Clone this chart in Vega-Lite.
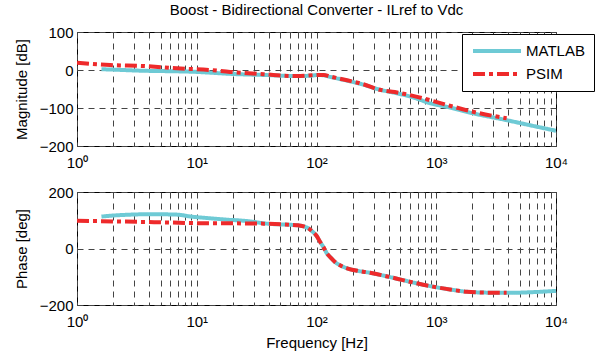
{
  "$schema": "https://vega.github.io/schema/vega-lite/v6.json",
  "padding": {"left": 13, "top": 2, "right": 1, "bottom": 0},
  "bounds": "flush",
  "spacing": 46,
  "config": {
    "font": "Liberation Sans",
    "view": {"stroke": "#000", "strokeWidth": 1},
    "axis": {
      "labelFontSize": 15, "titleFontSize": 15, "labelColor": "#000", "titleColor": "#000",
      "titleFontWeight": "normal", "domain": false, "ticks": false,
      "grid": true, "gridDash": [6, 5], "gridColor": "#444", "gridWidth": 1, "gridOpacity": 1,
      "labelFont": "Liberation Sans", "titleFont": "Liberation Sans"
    },
    "title": {"fontSize": 15, "fontWeight": "normal", "font": "Liberation Sans", "color": "#000"},
    "legend": {"labelFont": "Liberation Sans"}
  },
  "datasets": {
    "mag": [
      {"f": 1.6, "v": 2, "s": "MATLAB"}, {"f": 2, "v": 1, "s": "MATLAB"}, {"f": 3.6, "v": -2, "s": "MATLAB"},
      {"f": 6.8, "v": -3.5, "s": "MATLAB"}, {"f": 10, "v": -5, "s": "MATLAB"}, {"f": 12.9, "v": -7, "s": "MATLAB"},
      {"f": 20, "v": -10.5, "s": "MATLAB"}, {"f": 36, "v": -13, "s": "MATLAB"}, {"f": 68, "v": -16, "s": "MATLAB"},
      {"f": 90, "v": -15, "s": "MATLAB"}, {"f": 103, "v": -13, "s": "MATLAB"}, {"f": 115, "v": -14, "s": "MATLAB"},
      {"f": 130, "v": -18, "s": "MATLAB"}, {"f": 180, "v": -28, "s": "MATLAB"}, {"f": 243, "v": -38, "s": "MATLAB"},
      {"f": 340, "v": -52, "s": "MATLAB"}, {"f": 450, "v": -60, "s": "MATLAB"}, {"f": 640, "v": -72, "s": "MATLAB"},
      {"f": 900, "v": -88, "s": "MATLAB"}, {"f": 1230, "v": -97, "s": "MATLAB"}, {"f": 2030, "v": -114, "s": "MATLAB"},
      {"f": 3870, "v": -132, "s": "MATLAB"}, {"f": 6000, "v": -145, "s": "MATLAB"}, {"f": 10000, "v": -160, "s": "MATLAB"},
      {"f": 1, "v": 19, "s": "PSIM"}, {"f": 1.3, "v": 16, "s": "PSIM"}, {"f": 1.89, "v": 13, "s": "PSIM"},
      {"f": 3.6, "v": 10.5, "s": "PSIM"}, {"f": 6.8, "v": 4.5, "s": "PSIM"}, {"f": 12.9, "v": 0, "s": "PSIM"},
      {"f": 19, "v": -5, "s": "PSIM"}, {"f": 36, "v": -11, "s": "PSIM"}, {"f": 68, "v": -16, "s": "PSIM"},
      {"f": 103, "v": -13, "s": "PSIM"}, {"f": 115, "v": -13, "s": "PSIM"}, {"f": 130, "v": -17, "s": "PSIM"},
      {"f": 180, "v": -27, "s": "PSIM"}, {"f": 243, "v": -37, "s": "PSIM"}, {"f": 338, "v": -52, "s": "PSIM"},
      {"f": 450, "v": -58, "s": "PSIM"}, {"f": 640, "v": -68, "s": "PSIM"}, {"f": 900, "v": -80, "s": "PSIM"},
      {"f": 1230, "v": -92, "s": "PSIM"}, {"f": 2030, "v": -110, "s": "PSIM"}, {"f": 3870, "v": -127, "s": "PSIM"}
    ],
    "phase": [
      {"f": 1.6, "v": 113, "s": "MATLAB"}, {"f": 1.9, "v": 116, "s": "MATLAB"}, {"f": 2.5, "v": 119, "s": "MATLAB"},
      {"f": 3.6, "v": 121, "s": "MATLAB"}, {"f": 5, "v": 121, "s": "MATLAB"}, {"f": 6.8, "v": 120, "s": "MATLAB"},
      {"f": 9, "v": 113, "s": "MATLAB"}, {"f": 12.9, "v": 107, "s": "MATLAB"}, {"f": 18, "v": 102, "s": "MATLAB"},
      {"f": 25, "v": 98, "s": "MATLAB"}, {"f": 41, "v": 87, "s": "MATLAB"}, {"f": 60, "v": 84, "s": "MATLAB"},
      {"f": 70, "v": 82, "s": "MATLAB"}, {"f": 85, "v": 72, "s": "MATLAB"}, {"f": 93, "v": 59, "s": "MATLAB"},
      {"f": 100, "v": 45, "s": "MATLAB"}, {"f": 107, "v": 24, "s": "MATLAB"}, {"f": 115, "v": 3, "s": "MATLAB"},
      {"f": 122, "v": -17, "s": "MATLAB"}, {"f": 132, "v": -33, "s": "MATLAB"}, {"f": 142, "v": -47, "s": "MATLAB"},
      {"f": 160, "v": -61, "s": "MATLAB"}, {"f": 180, "v": -70, "s": "MATLAB"}, {"f": 220, "v": -79, "s": "MATLAB"},
      {"f": 280, "v": -86, "s": "MATLAB"}, {"f": 400, "v": -100, "s": "MATLAB"}, {"f": 527, "v": -112, "s": "MATLAB"},
      {"f": 700, "v": -124, "s": "MATLAB"}, {"f": 940, "v": -135, "s": "MATLAB"}, {"f": 1300, "v": -145, "s": "MATLAB"},
      {"f": 1800, "v": -153, "s": "MATLAB"}, {"f": 2500, "v": -156, "s": "MATLAB"}, {"f": 3870, "v": -157, "s": "MATLAB"},
      {"f": 6000, "v": -155, "s": "MATLAB"}, {"f": 10000, "v": -150, "s": "MATLAB"},
      {"f": 1, "v": 98, "s": "PSIM"}, {"f": 2, "v": 96, "s": "PSIM"}, {"f": 3.6, "v": 94, "s": "PSIM"},
      {"f": 6, "v": 92, "s": "PSIM"}, {"f": 12.9, "v": 89, "s": "PSIM"}, {"f": 20, "v": 89, "s": "PSIM"},
      {"f": 36, "v": 88, "s": "PSIM"}, {"f": 50, "v": 86, "s": "PSIM"}, {"f": 60, "v": 84, "s": "PSIM"},
      {"f": 70, "v": 82, "s": "PSIM"}, {"f": 85, "v": 72, "s": "PSIM"}, {"f": 93, "v": 59, "s": "PSIM"},
      {"f": 100, "v": 45, "s": "PSIM"}, {"f": 107, "v": 24, "s": "PSIM"}, {"f": 115, "v": 3, "s": "PSIM"},
      {"f": 122, "v": -17, "s": "PSIM"}, {"f": 132, "v": -33, "s": "PSIM"}, {"f": 142, "v": -47, "s": "PSIM"},
      {"f": 160, "v": -61, "s": "PSIM"}, {"f": 180, "v": -70, "s": "PSIM"}, {"f": 220, "v": -79, "s": "PSIM"},
      {"f": 280, "v": -86, "s": "PSIM"}, {"f": 400, "v": -100, "s": "PSIM"}, {"f": 527, "v": -112, "s": "PSIM"},
      {"f": 700, "v": -124, "s": "PSIM"}, {"f": 940, "v": -135, "s": "PSIM"}, {"f": 1300, "v": -145, "s": "PSIM"},
      {"f": 1800, "v": -153, "s": "PSIM"}, {"f": 2500, "v": -156, "s": "PSIM"}, {"f": 3870, "v": -157, "s": "PSIM"}
    ]
  },
  "resolve": {"legend": {"color": "independent", "strokeDash": "independent"}},
  "vconcat": [
    {
      "title": {"text": "Boost - Bidirectional Converter - ILref to Vdc", "offset": 7, "frame": "group"},
      "width": 479, "height": 114,
      "data": {"name": "mag"},
      "mark": {"type": "line", "strokeWidth": 4, "interpolate": "monotone", "clip": true},
      "encoding": {
        "x": {"field": "f", "type": "quantitative",
          "scale": {"type": "log", "domain": [1, 10000], "nice": false},
          "axis": {"title": null, "values": [1,2,3,4,5,6,7,8,9,10,20,30,40,50,60,70,80,90,100,200,300,400,500,600,700,800,900,1000,2000,3000,4000,5000,6000,7000,8000,9000,10000],
            "labelExpr": "datum.value==1?'10⁰':datum.value==10?'10¹':datum.value==100?'10²':datum.value==1000?'10³':datum.value==10000?'10⁴':''",
            "labelPadding": 9, "labelOverlap": false, "labelFlush": false}},
        "y": {"field": "v", "type": "quantitative",
          "scale": {"domain": [-200, 100], "nice": false},
          "axis": {"title": "Magnitude [dB]", "values": [-200, -100, 0, 100], "labelPadding": 4, "titlePadding": 10}},
        "color": {"field": "s", "type": "nominal",
          "scale": {"domain": ["MATLAB", "PSIM"], "range": ["#6ECAD5", "#EE2A2B"]},
          "legend": {"title": null, "orient": "none", "legendX": 385, "legendY": 2,
            "strokeColor": "#000", "fillColor": "#fff", "padding": 9, "cornerRadius": 0,
            "symbolType": "M-4,0L4,0", "symbolSize": 144, "symbolStrokeWidth": 4, "symbolOffset": 18,
            "labelFontSize": 15, "labelColor": "#000", "labelOffset": 21, "rowPadding": 7}},
        "strokeDash": {"field": "s", "type": "nominal",
          "scale": {"domain": ["MATLAB", "PSIM"], "range": [[1, 0], [12, 4, 4, 4]]},
          "legend": {"title": null, "orient": "none", "legendX": 385, "legendY": 2,
            "strokeColor": "#000", "fillColor": "#fff", "padding": 9, "cornerRadius": 0,
            "symbolType": "M-4,0L4,0", "symbolSize": 144, "symbolStrokeWidth": 4, "symbolOffset": 18,
            "labelFontSize": 15, "labelColor": "#000", "labelOffset": 21, "rowPadding": 7}}
      }
    },
    {
      "width": 479, "height": 113,
      "data": {"name": "phase"},
      "mark": {"type": "line", "strokeWidth": 4, "interpolate": "monotone", "clip": true},
      "encoding": {
        "x": {"field": "f", "type": "quantitative",
          "scale": {"type": "log", "domain": [1, 10000], "nice": false},
          "axis": {"title": "Frequency [Hz]", "values": [1,2,3,4,5,6,7,8,9,10,20,30,40,50,60,70,80,90,100,200,300,400,500,600,700,800,900,1000,2000,3000,4000,5000,6000,7000,8000,9000,10000],
            "labelExpr": "datum.value==1?'10⁰':datum.value==10?'10¹':datum.value==100?'10²':datum.value==1000?'10³':datum.value==10000?'10⁴':''",
            "labelPadding": 9, "labelOverlap": false, "labelFlush": false, "titlePadding": 6}},
        "y": {"field": "v", "type": "quantitative",
          "scale": {"domain": [-200, 200], "nice": false},
          "axis": {"title": "Phase [deg]", "values": [-200, 0, 200], "labelPadding": 4, "titlePadding": 10}},
        "color": {"field": "s", "type": "nominal",
          "scale": {"domain": ["MATLAB", "PSIM"], "range": ["#6ECAD5", "#EE2A2B"]},
          "legend": null},
        "strokeDash": {"field": "s", "type": "nominal",
          "scale": {"domain": ["MATLAB", "PSIM"], "range": [[1, 0], [12, 4, 4, 4]]},
          "legend": null}
      }
    }
  ]
}
